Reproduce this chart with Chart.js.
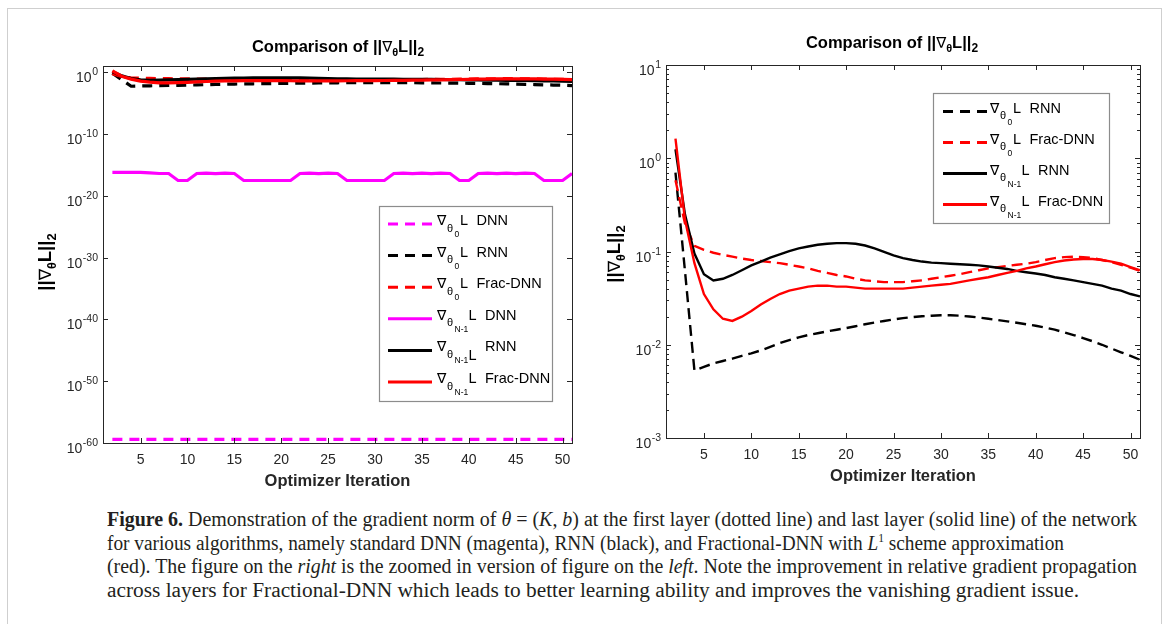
<!DOCTYPE html>
<html>
<head>
<meta charset="utf-8">
<script src="https://cdn.jsdelivr.net/npm/chart.js@4.4.1/dist/chart.umd.min.js"></script>
<style>
  html, body { margin: 0; padding: 0; background: #fff; }
  body { width: 1167px; height: 624px; position: relative; overflow: hidden; }
  #frame { position: absolute; left: 7px; top: 8px; width: 1153px; height: 660px; border: 1px solid #cfcfcf; }
  #left { position: absolute; left: 0; top: 0; }
  #right { position: absolute; left: 590px; top: 0; }
  #caption { position: absolute; left: 107px; top: 508px; font-family: 'Liberation Serif', serif; font-size: 20px; color: #231f20; line-height: 23.5px; }
  #caption div { white-space: nowrap; height: 23.5px; }
  #caption span { display: inline-block; transform-origin: 0 50%; }
  #caption sup { font-size: 12px; line-height: 0; vertical-align: 8px; }
</style>
</head>
<body>
<div id="frame"></div>
<canvas id="left" width="590" height="500"></canvas>
<canvas id="right" width="577" height="500"></canvas>
<div id="caption">
  <div><span data-w="1030"><b>Figure 6.</b> Demonstration of the gradient norm of <i>θ</i> = (<i>K</i>, <i>b</i>) at the first layer (dotted line) and last layer (solid line) of the network</span></div>
  <div><span data-w="957">for various algorithms, namely standard DNN (magenta), RNN (black), and Fractional-DNN with <i>L</i><sup>1</sup> scheme approximation</span></div>
  <div><span data-w="1030">(red). The figure on the <i>right</i> is the zoomed in version of figure on the <i>left</i>. Note the improvement in relative gradient propagation</span></div>
  <div><span data-w="972">across layers for Fractional-DNN which leads to better learning ability and improves the vanishing gradient issue.</span></div>
</div>
<script>
// --- data (optimizer iterations 2..51) ---
const iterations = [2, 3, 4, 5, 6, 7, 8, 9, 10, 11, 12, 13, 14, 15, 16, 17, 18, 19, 20, 21,
  22, 23, 24, 25, 26, 27, 28, 29, 30, 31, 32, 33, 34, 35, 36, 37, 38, 39, 40, 41,
  42, 43, 44, 45, 46, 47, 48, 49, 50, 51];

// first layer, standard DNN (magenta dashed)
const dnnTheta0 = [4e-60, 4e-60, 4e-60, 4e-60, 4e-60, 4e-60, 4e-60, 4e-60, 4e-60, 4e-60,
  4e-60, 4e-60, 4e-60, 4e-60, 4e-60, 4e-60, 4e-60, 4e-60, 4e-60, 4e-60,
  4e-60, 4e-60, 4e-60, 4e-60, 4e-60, 4e-60, 4e-60, 4e-60, 4e-60, 4e-60,
  4e-60, 4e-60, 4e-60, 4e-60, 4e-60, 4e-60, 4e-60, 4e-60, 4e-60, 4e-60,
  4e-60, 4e-60, 4e-60, 4e-60, 4e-60, 4e-60, 4e-60, 4e-60, 4e-60, 4e-60];

// first layer, RNN (black dashed)
const rnnTheta0 = [0.70, 0.062, 0.0053, 0.0058, 0.0063, 0.0067, 0.0071, 0.0076, 0.0081, 0.0087,
  0.0095, 0.0104, 0.0112, 0.0120, 0.0127, 0.0133, 0.0139, 0.0145, 0.0151, 0.0158,
  0.0166, 0.0173, 0.0180, 0.0187, 0.0193, 0.0198, 0.0202, 0.0205, 0.0207, 0.0207,
  0.0205, 0.0201, 0.0196, 0.0190, 0.0184, 0.0178, 0.0172, 0.0166, 0.0160, 0.0153,
  0.0145, 0.0136, 0.0127, 0.0118, 0.0109, 0.0100, 0.0091, 0.0083, 0.0076, 0.0069];

// first layer, Frac-DNN (red dashed)
const fracTheta0 = [0.58, 0.20, 0.115, 0.104, 0.097, 0.092, 0.088, 0.084, 0.081, 0.079,
  0.077, 0.075, 0.072, 0.069, 0.066, 0.062, 0.059, 0.056, 0.054, 0.051,
  0.049, 0.048, 0.047, 0.047, 0.047, 0.048, 0.049, 0.051, 0.053, 0.055,
  0.057, 0.060, 0.063, 0.066, 0.068, 0.070, 0.072, 0.074, 0.077, 0.081,
  0.085, 0.087, 0.088, 0.087, 0.085, 0.081, 0.077, 0.072, 0.067, 0.062];

// last layer, standard DNN (magenta solid)
const dnnThetaN = [6e-17, 6e-17, 6e-17, 6e-17, 5e-17, 4e-17, 4e-17, 3e-18, 3e-18, 4e-17,
  4.5e-17, 4e-17, 4.5e-17, 4e-17, 3e-18, 3e-18, 3e-18, 3e-18, 3e-18, 3e-18,
  4e-17, 4.5e-17, 4e-17, 4.5e-17, 4e-17, 3e-18, 3e-18, 3e-18, 3e-18, 3e-18,
  4e-17, 4.5e-17, 4e-17, 4.5e-17, 4e-17, 4.5e-17, 4e-17, 3e-18, 3e-18, 4e-17,
  4.5e-17, 4e-17, 4.5e-17, 4e-17, 4.5e-17, 4e-17, 3e-18, 3e-18, 3e-18, 4e-17];

// last layer, RNN (black solid)
const rnnThetaN = [1.25, 0.25, 0.095, 0.057, 0.049, 0.051, 0.056, 0.063, 0.071, 0.078,
  0.086, 0.093, 0.101, 0.108, 0.113, 0.118, 0.121, 0.123, 0.123, 0.121,
  0.116, 0.108, 0.099, 0.091, 0.085, 0.081, 0.078, 0.076, 0.075, 0.074,
  0.073, 0.072, 0.071, 0.069, 0.067, 0.065, 0.062, 0.060, 0.058, 0.056,
  0.053, 0.051, 0.049, 0.047, 0.045, 0.043, 0.040, 0.038, 0.035, 0.033];

// last layer, Frac-DNN (red solid)
const fracThetaN = [1.62, 0.22, 0.075, 0.035, 0.024, 0.019, 0.018, 0.020, 0.023, 0.027,
  0.031, 0.035, 0.038, 0.040, 0.042, 0.043, 0.043, 0.042, 0.042, 0.041,
  0.040, 0.040, 0.040, 0.040, 0.040, 0.041, 0.042, 0.043, 0.044, 0.045,
  0.047, 0.049, 0.051, 0.053, 0.056, 0.059, 0.062, 0.066, 0.069, 0.073,
  0.077, 0.080, 0.082, 0.083, 0.083, 0.081, 0.078, 0.074, 0.068, 0.063];

// ticks
const xTicks = [5, 10, 15, 20, 25, 30, 35, 40, 45, 50];
const leftYTicks = [1e0, 1e-10, 1e-20, 1e-30, 1e-40, 1e-50, 1e-60];
const leftYExp = ['0', '-10', '-20', '-30', '-40', '-50', '-60'];
const rightYTicks = [1e1, 1e0, 1e-1, 1e-2, 1e-3];
const rightYExp = ['1', '0', '-1', '-2', '-3'];

// legend text
const leftLegendNames = ['DNN', 'RNN', 'Frac-DNN', 'DNN', 'RNN', 'Frac-DNN'];
const leftLegendLayers = ['0', '0', '0', 'N-1', 'N-1', 'N-1'];
const rightLegendNames = ['RNN', 'Frac-DNN', 'RNN', 'Frac-DNN'];
const rightLegendLayers = ['0', '0', 'N-1', 'N-1'];

const MAGENTA = '#ff00ff', RED = '#ff0000', BLACK = '#000000', AXIS = '#262626';
const SANS = "'Liberation Sans', Arial, sans-serif";
const NABLA = "'DejaVu Sans', sans-serif";

function series(values, color, dashed, width, dash) {
  return {
    data: iterations.map((it, i) => ({ x: it, y: values[i] })),
    borderColor: color,
    borderWidth: width,
    borderDash: dashed ? dash : [],
    pointRadius: 0,
    tension: 0,
    fill: false,
    _dashed: dashed
  };
}

// draw a row of text pieces: [text, size, bold, dy, family]
function drawRuns(ctx, parts, x, y, align) {
  let total = 0;
  parts.forEach(p => {
    ctx.font = (p[2] ? 'bold ' : '') + p[1] + 'px ' + (p[4] || SANS);
    p.w = ctx.measureText(p[0]).width;
    total += p.w;
  });
  let cx = align === 'center' ? x - total / 2 : x;
  parts.forEach(p => {
    ctx.font = (p[2] ? 'bold ' : '') + p[1] + 'px ' + (p[4] || SANS);
    ctx.fillText(p[0], cx, y + p[3]);
    cx += p.w;
  });
}

const matlabAxes = {
  id: 'matlabAxes',
  afterDatasetsDraw(chart, args, o) {
    const { ctx, chartArea: a } = chart;
    const x = chart.scales.x, y = chart.scales.y;
    ctx.save();
    ctx.strokeStyle = AXIS;
    ctx.lineWidth = 1;
    ctx.strokeRect(a.left + 0.5, a.top + 0.5, a.right - a.left, a.bottom - a.top);
    ctx.beginPath();
    x.ticks.forEach(t => {
      const px = Math.round(x.getPixelForValue(t.value)) + 0.5;
      ctx.moveTo(px, a.bottom); ctx.lineTo(px, a.bottom - 5);
      ctx.moveTo(px, a.top); ctx.lineTo(px, a.top + 5);
    });
    y.ticks.forEach(t => {
      const py = Math.round(y.getPixelForValue(t.value)) + 0.5;
      ctx.moveTo(a.left, py); ctx.lineTo(a.left + 5, py);
      ctx.moveTo(a.right, py); ctx.lineTo(a.right - 5, py);
    });
    if (o.minor) {
      for (let e = Math.log10(y.min); e < Math.log10(y.max); e++) {
        for (let m = 2; m <= 9; m++) {
          const py = Math.round(y.getPixelForValue(m * Math.pow(10, e))) + 0.5;
          ctx.moveTo(a.left, py); ctx.lineTo(a.left + 3, py);
          ctx.moveTo(a.right, py); ctx.lineTo(a.right - 3, py);
        }
      }
    }
    ctx.stroke();

    // y tick labels as 10^k
    ctx.fillStyle = AXIS;
    ctx.textAlign = 'left';
    ctx.textBaseline = 'alphabetic';
    y.ticks.forEach((t, i) => {
      const py = y.getPixelForValue(t.value);
      const exp = o.exps[i];
      ctx.font = '10.5px ' + SANS;
      const ew = ctx.measureText(exp).width;
      const xr = a.left - 5;
      ctx.fillText(exp, xr - ew, py + 3);
      ctx.font = '14px ' + SANS;
      const bw = ctx.measureText('10').width;
      ctx.fillText('10', xr - ew - bw - 0.5, py + 10);
    });

    // title
    ctx.fillStyle = '#000';
    drawRuns(ctx, [['Comparison of ||', 16.5, true, 0], ['\u2207', 15, false, 0, NABLA],
      ['θ', 11, true, 4], ['L||', 16.5, true, 0], ['2', 12, true, 4]], o.titleX, o.titleY, 'center');

    // y axis title, rotated
    ctx.save();
    ctx.translate(o.yTitleX, o.yTitleY);
    ctx.rotate(-Math.PI / 2);
    drawRuns(ctx, [['||', 18.5, true, 0], ['\u2207', 17, false, 0, NABLA], ['θ', 12.5, true, 5],
      ['L||', 18.5, true, 0], ['2', 13, true, 5]], 0, 0, 'center');
    ctx.restore();

    // legend
    const L = o.legend;
    ctx.fillStyle = '#fff';
    ctx.fillRect(L.box[0], L.box[1], L.box[2] - L.box[0], L.box[3] - L.box[1]);
    ctx.strokeStyle = '#8c8c8c';
    ctx.lineWidth = 1.2;
    ctx.strokeRect(L.box[0] + 0.5, L.box[1] + 0.5, L.box[2] - L.box[0], L.box[3] - L.box[1]);
    L.datasets.forEach((di, r) => {
      const d = chart.data.datasets[di];
      const ly = L.rows[r];
      ctx.save();
      ctx.strokeStyle = d.borderColor;
      ctx.lineWidth = L.lw;
      ctx.setLineDash(d._dashed ? [10, 7] : []);
      ctx.beginPath();
      ctx.moveTo(L.lineX[0], ly); ctx.lineTo(L.lineX[1], ly);
      ctx.stroke();
      ctx.restore();
      const x0 = L.textX, layer = L.layers[r], long = layer !== '0';
      ctx.fillStyle = '#000';
      ctx.font = '14px ' + NABLA;
      ctx.fillText('\u2207', x0, ly + 1);
      ctx.font = '11px ' + SANS;
      ctx.fillText('θ', x0 + 10, ly + 7.5);
      ctx.font = '8.5px ' + SANS;
      ctx.fillText(layer, x0 + 17.5, ly + 13);
      ctx.font = '14.5px ' + SANS;
      ctx.fillText('L', x0 + (long ? 31.5 : 23), ly + 1 + (L.lowL === r ? 9 : 0));
      ctx.fillText(L.names[r], x0 + (long ? 48 : 39.5), ly + 1);
    });
    ctx.restore();
  }
};

function makeChart(id, sets, yTicks, yMin, yMax, pad, xHeight, yWidth, titlePad, plug) {
  return new Chart(document.getElementById(id), {
    type: 'line',
    data: { datasets: sets },
    options: {
      responsive: false,
      animation: false,
      layout: { padding: pad },
      plugins: { legend: { display: false }, tooltip: { enabled: false }, matlabAxes: plug },
      scales: {
        x: {
          type: 'linear', min: 1, max: 51,
          afterBuildTicks: s => { s.ticks = xTicks.map(v => ({ value: v })); },
          afterFit: s => { s.height = xHeight; },
          grid: { display: false, drawTicks: false },
          border: { display: false },
          ticks: { color: AXIS, font: { family: SANS, size: 14 }, padding: 9, callback: v => String(v) },
          title: { display: true, text: 'Optimizer Iteration', color: AXIS,
            font: { family: SANS, size: 16.5, weight: 'bold' }, padding: titlePad }
        },
        y: {
          type: 'logarithmic', min: yMin, max: yMax,
          afterBuildTicks: s => { s.ticks = yTicks.map(v => ({ value: v })); },
          afterFit: s => { s.width = yWidth; },
          grid: { display: false, drawTicks: false },
          border: { display: false },
          ticks: { display: false }
        }
      }
    },
    plugins: [matlabAxes]
  });
}

// left panel: full range, thick lines
const LW = 3.2, LD = [10, 7];
const leftSets = [
  series(dnnTheta0, MAGENTA, true, LW, LD),
  series(rnnTheta0, BLACK, true, LW, LD),
  series(fracTheta0, RED, true, LW, LD),
  series(dnnThetaN, MAGENTA, false, LW, LD),
  series(rnnThetaN, BLACK, false, LW, LD),
  series(fracThetaN, RED, false, LW, LD)
];
leftSets.forEach((d, i) => { d.order = leftSets.length - i; });

makeChart('left', leftSets, leftYTicks, 1e-60, 1e1,
  { left: 0, top: 66, right: 18, bottom: 0 }, 57, 103, { top: 2, bottom: 9 },
  {
    exps: leftYExp, minor: false,
    titleX: 338, titleY: 52, yTitleX: 51, yTitleY: 262,
    legend: {
      box: [379, 206, 552, 401], lineX: [388, 432], textX: 437, lw: 3,
      rows: [224, 255.6, 287.2, 318.8, 350.4, 382],
      datasets: [0, 1, 2, 3, 4, 5], names: leftLegendNames, layers: leftLegendLayers, lowL: 4
    }
  });

// right panel: zoomed in
const RW = 2.4, RD = [11, 6];
const rightSets = [
  series(rnnTheta0, BLACK, true, RW, RD),
  series(fracTheta0, RED, true, RW, RD),
  series(rnnThetaN, BLACK, false, RW, RD),
  series(fracThetaN, RED, false, RW, RD)
];
rightSets.forEach((d, i) => { d.order = rightSets.length - i; });

makeChart('right', rightSets, rightYTicks, 1e-3, 1e1,
  { left: 0, top: 65, right: 27, bottom: 0 }, 62, 76, { top: 2, bottom: 14 },
  {
    exps: rightYExp, minor: true,
    titleX: 302, titleY: 48, yTitleX: 30, yTitleY: 254,
    legend: {
      box: [343, 93, 519, 223], lineX: [353, 397], textX: 400, lw: 3,
      rows: [111.5, 142.5, 173.5, 204.5],
      datasets: [0, 1, 2, 3], names: rightLegendNames, layers: rightLegendLayers, lowL: -1
    }
  });

// fit caption lines to the printed widths
document.querySelectorAll('#caption span').forEach(s => {
  const w = s.getBoundingClientRect().width;
  s.style.transform = 'scaleX(' + (parseFloat(s.dataset.w) / w) + ')';
});
</script>
</body>
</html>
